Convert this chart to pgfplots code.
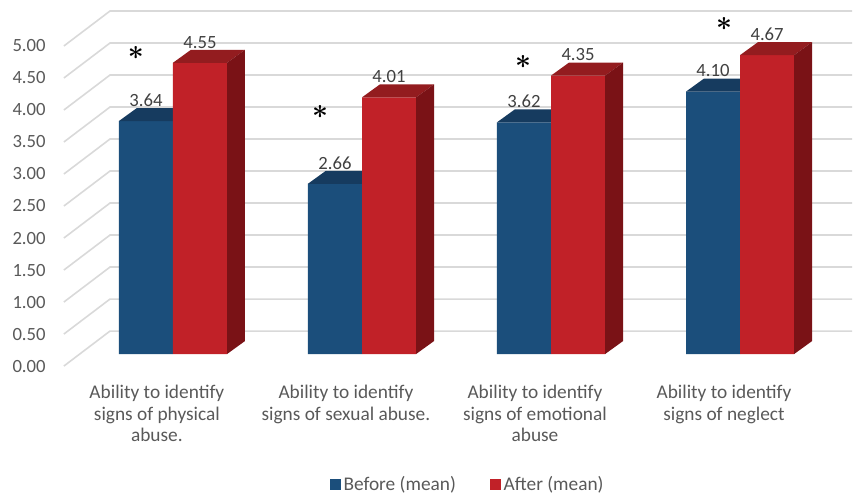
\documentclass[border=0pt]{standalone}
\usepackage{fontspec}
\setmainfont{Carlito}
\usepackage{pgfplots}
\usepackage{pgfplotstable}
\pgfplotsset{compat=1.18}
\pgfkeys{/pgf/number format/assume math mode=true}
\definecolor{bluefront}{HTML}{1B4E7B}
\definecolor{bluetop}{HTML}{163B5F}
\definecolor{redfront}{HTML}{C12128}
\definecolor{redtop}{HTML}{931C1F}
\definecolor{redside}{HTML}{7A1216}
\definecolor{gridgray}{HTML}{D9D9D9}
\definecolor{textgray}{HTML}{595959}
\definecolor{labelgray}{HTML}{404040}

\pgfplotstableread{
x before after
0 3.64 4.55
1 2.66 4.01
2 3.62 4.35
3 4.10 4.67
}\datatable

\newcommand{\bartop}[3]{%
  \pgfmathsetmacro\xa{#1}%
  \pgfmathsetmacro\xb{#1+0.095}%
  \pgfmathsetmacro\xc{#1+0.381}%
  \pgfmathsetmacro\xd{#1+0.286}%
  \pgfmathsetmacro\yt{#2+0.203}%
  \edef\doplot{\noexpand\addplot[fill=#3,draw=none,forget plot] coordinates {(\xa,#2) (\xb,\yt) (\xc,\yt) (\xd,#2)};}%
  \doplot}
\newcommand{\barside}[3]{%
  \pgfmathsetmacro\xa{#1}%
  \pgfmathsetmacro\xb{#1+0.095}%
  \pgfmathsetmacro\yt{#2+0.203}%
  \edef\doplot{\noexpand\addplot[fill=#3,draw=none,forget plot] coordinates {(\xa,0) (\xb,0.203) (\xb,\yt) (\xa,#2)};}%
  \doplot}
\newcommand{\gridline}[1]{%
  \pgfmathsetmacro\ya{#1-0.1875}%
  \pgfmathsetmacro\yb{#1+0.359}%
  \edef\doplot{\noexpand\addplot[gridgray,line width=1.2pt,forget plot] coordinates {(-0.577,\ya) (-0.333,\yb) (3.593,\yb)};}%
  \doplot}

\begin{document}
\begin{tikzpicture}
\begin{axis}[
  x=141.75pt, y=48pt,
  xmin=-0.577, xmax=3.593, ymin=-0.1875, ymax=5.36,
  clip=false,
  axis line style={draw=none},
  major tick length=0pt,
  ytick={-0.1875,0.3125,0.8125,1.3125,1.8125,2.3125,2.8125,3.3125,3.8125,4.3125,4.8125},
  yticklabels={0.00,0.50,1.00,1.50,2.00,2.50,3.00,3.50,4.00,4.50,5.00},
  yticklabel style={anchor=east, inner sep=0pt, xshift=-13.5pt, font=\fontsize{14}{16}\selectfont, text=textgray},
  xtick={-0.085,0.915,1.915,2.915},
  xticklabels={{Ability to identify\\signs of physical\\abuse.},{Ability to identify\\signs of sexual abuse.},{Ability to identify\\signs of emotional\\abuse},{Ability to identify\\signs of neglect}},
  xticklabel style={anchor=north, align=center, inner sep=0pt, yshift=-14pt, font=\fontsize{14.5}{16.2}\selectfont, text=textgray},
  legend style={at={(axis cs:1.561,-2.031)}, anchor=center, legend columns=2, draw=none, fill=none,
    font=\fontsize{14.5}{16}\selectfont, text=textgray,
    nodes={inner sep=1.8pt},
    /tikz/every even column/.append style={column sep=24pt}},
  legend image code/.code={\fill (0pt,-4.1pt) rectangle (8.25pt,4.1pt);},
]
\gridline{0}\gridline{0.5}\gridline{1}\gridline{1.5}\gridline{2}\gridline{2.5}
\gridline{3}\gridline{3.5}\gridline{4}\gridline{4.5}\gridline{5}

\addplot[ybar, bar width=0.286, bar shift=-0.143, fill=bluefront, draw=none,
  nodes near coords={\pgfmathprintnumber[fixed,fixed zerofill,precision=2]{\pgfplotspointmeta}},
  every node near coord/.append style={anchor=south, xshift=-20.27pt, yshift=9.75pt, inner sep=1pt, text=labelgray, font=\fontsize{14}{16}\selectfont}]
  table[x=x,y=before]{\datatable};
\addlegendentry{Before (mean)}
\bartop{-0.286}{3.64}{bluetop}
\bartop{0.714}{2.66}{bluetop}
\bartop{1.714}{3.62}{bluetop}
\bartop{2.714}{4.10}{bluetop}

\addplot[ybar, bar width=0.286, bar shift=0.143, fill=redfront, draw=none,
  nodes near coords={\pgfmathprintnumber[fixed,fixed zerofill,precision=2]{\pgfplotspointmeta}},
  every node near coord/.append style={anchor=south, xshift=20.27pt, yshift=9.75pt, inner sep=1pt, text=labelgray, font=\fontsize{14}{16}\selectfont}]
  table[x=x,y=after]{\datatable};
\addlegendentry{After (mean)}
\bartop{0}{4.55}{redtop}
\bartop{1}{4.01}{redtop}
\bartop{2}{4.35}{redtop}
\bartop{3}{4.67}{redtop}
\barside{0.286}{4.55}{redside}
\barside{1.286}{4.01}{redside}
\barside{2.286}{4.35}{redside}
\barside{3.286}{4.67}{redside}

\node[inner sep=0pt, font=\fontsize{22}{22}\selectfont\boldmath] at (axis cs:-0.196,4.703) {$\ast$};
\node[inner sep=0pt, font=\fontsize{22}{22}\selectfont\boldmath] at (axis cs:0.778,3.781) {$\ast$};
\node[inner sep=0pt, font=\fontsize{22}{22}\selectfont\boldmath] at (axis cs:1.852,4.5625) {$\ast$};
\node[inner sep=0pt, font=\fontsize{22}{22}\selectfont\boldmath] at (axis cs:2.915,5.15) {$\ast$};

\path (axis cs:-0.915,-2.172) rectangle (axis cs:3.608,5.531);
\end{axis}
\end{tikzpicture}
\end{document}
